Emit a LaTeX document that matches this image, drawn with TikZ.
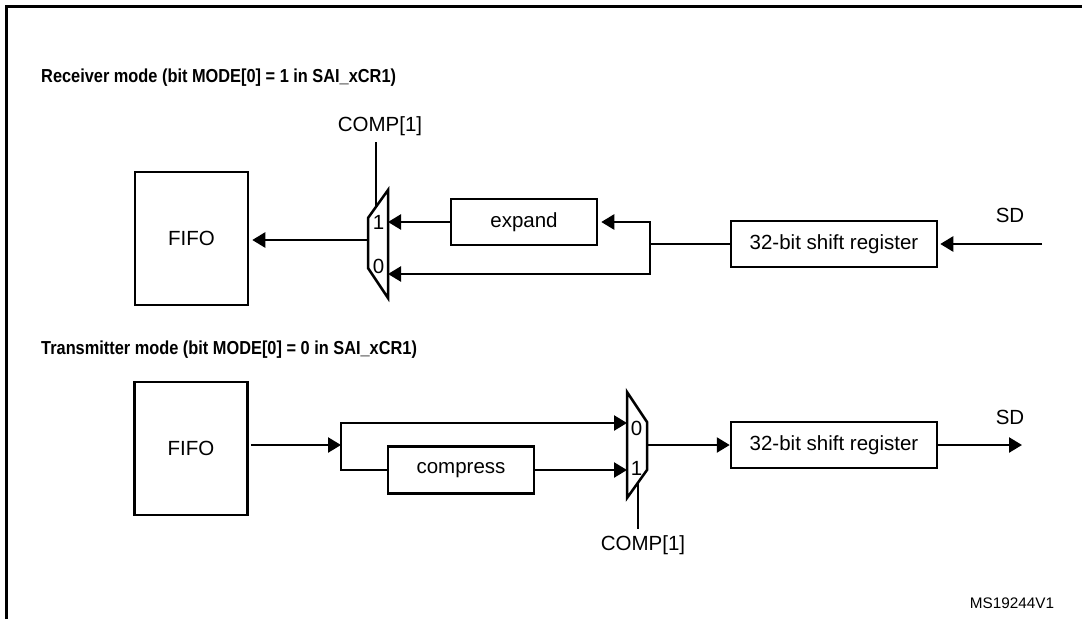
\documentclass[tikz,border=0pt]{standalone}
\usepackage{fontspec}
\setmainfont{Liberation Sans}
\newfontfamily\headfont{Liberation Sans}[FakeStretch=0.87]
\usetikzlibrary{arrows.meta,positioning}

\begin{document}
\begin{tikzpicture}[x=1pt,y=-1pt,>={Triangle[length=13pt,width=15pt]},
  every node/.style={font=\fontsize{20.5}{24}\selectfont},
  blk/.style={draw,line width=2.5pt,inner sep=0pt},
  wire/.style={line width=2.5pt},
  head/.style={font=\fontsize{18.8}{22}\headfont\bfseries,anchor=west,inner sep=0pt},
  bit/.style={inner sep=0pt}]
\useasboundingbox (0,0) rectangle (1082,619);
% frame
\draw[line width=3pt] (6,619) -- (6,6) -- (1082,6);

% receiver
\node[head] (rxhead) at (41,78) {Receiver mode (bit MODE[0] = 1 in SAI\_xCR1)};
\node[blk,minimum width=113pt,minimum height=133pt] (rxfifo) at (191.5,238.5) {FIFO};
\node[blk,minimum width=146pt,minimum height=46pt] (rxexpand) at (524,222) {expand};
\node[blk,minimum width=206pt,minimum height=46pt] (rxshift) at (834,244) {32-bit shift register};
\draw[wire] (368,218) -- (388,190) -- (388,298) -- (368,268) -- cycle;
\node[bit] at (378.5,222) {1};
\node[bit] at (378.5,266) {0};
\coordinate (rxmux1) at (388,222);
\coordinate (rxmux0) at (388,274);
\coordinate (rxmuxout) at (368,240);
\coordinate (rxmuxsel) at (376,207);
\coordinate (rxsplit) at (650,244);
\coordinate (rxsd) at (1042,244);
\node[bit] (rxcomp) at (380,126) {COMP[1]};
\node (rxsdlbl) at (1010,215) {SD};
\draw[wire] (rxmuxsel) -- ([yshift=-6pt]rxcomp.south -| rxmuxsel);
\draw[wire,->] (rxmuxout) -- ([xshift=3pt]rxmuxout -| rxfifo.east);
\draw[wire,->] (rxexpand.west) -- (rxmux1);
\draw[wire] (rxshift.west) -- (rxsplit);
\draw[wire,->] (rxsplit) |- ([xshift=3pt]rxexpand.east);
\draw[wire,->] (rxsplit) |- (rxmux0);
\draw[wire,->] (rxsd) -- ([xshift=2pt]rxshift.east);

% transmitter
\node[head] (txhead) at (41,350) {Transmitter mode (bit MODE[0] = 0 in SAI\_xCR1)};
\node[blk,minimum width=113pt,minimum height=133pt] (txfifo) at (191,448.5) {FIFO};
\node[blk,minimum width=146pt,minimum height=47pt] (txcompress) at (461,470) {compress};
\node[blk,minimum width=206pt,minimum height=46pt] (txshift) at (834,445) {32-bit shift register};
\draw[wire] (627,392) -- (647,422) -- (647,470) -- (627,498) -- cycle;
\node[bit] at (636.5,428) {0};
\node[bit] at (636.5,468) {1};
\coordinate (txmux0) at (627,423);
\coordinate (txmux1) at (627,470);
\coordinate (txmuxout) at (647,445);
\coordinate (txmuxsel) at (638,482.6);
\coordinate (txsplit) at (341,445);
\coordinate (txsd) at (1022,445);
\node[bit] (txcomp) at (643,545) {COMP[1]};
\node (txsdlbl) at (1010,417) {SD};
\draw[wire] (txmuxsel) -- ([yshift=6pt]txcomp.north -| txmuxsel);
\draw[wire,->] ([xshift=2pt]txsplit -| txfifo.east) -- (txsplit);
\draw[wire,->] (txsplit) |- (txmux0);
\draw[wire] (txsplit) |- (txcompress.west);
\draw[wire,->] (txcompress.east) -- (txmux1);
\draw[wire,->] (txmuxout) -- (txshift.west);
\draw[wire,->] (txshift.east) -- (txsd);

\node[font=\fontsize{15.3}{18}\selectfont] (docid) at (1012,603) {MS19244V1};
\end{tikzpicture}
\end{document}
